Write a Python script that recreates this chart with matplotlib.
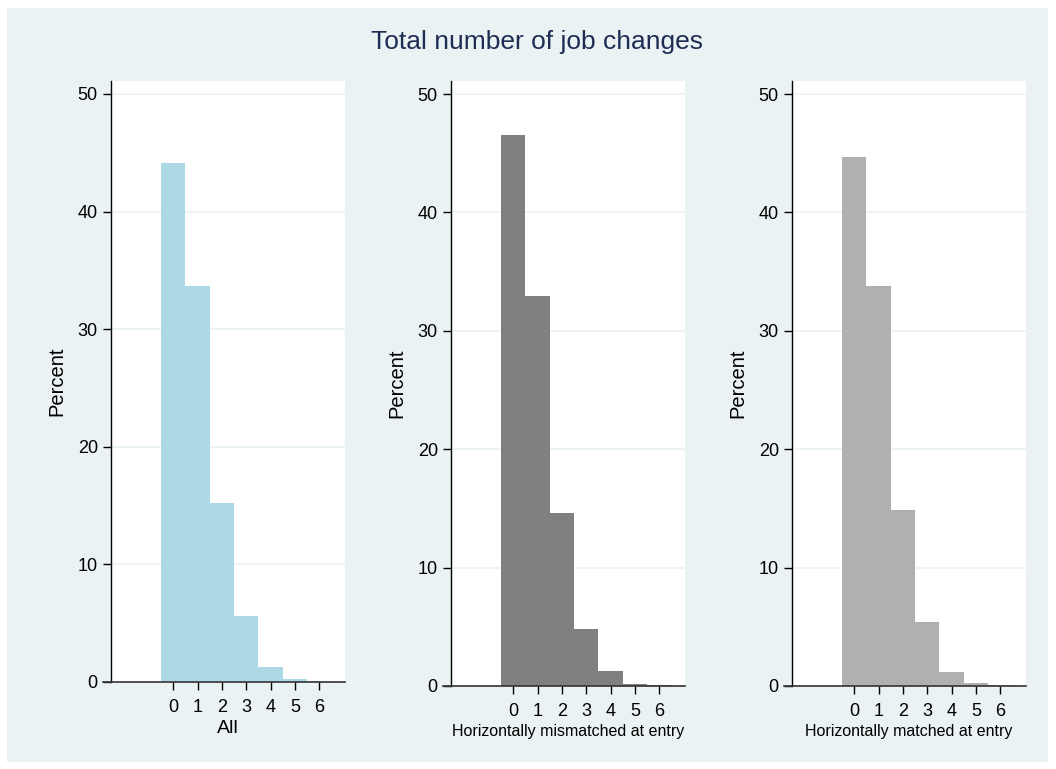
import matplotlib.pyplot as plt
from matplotlib.patches import Rectangle
from matplotlib.lines import Line2D
import numpy as np

plt.rcParams['font.family'] = ['Liberation Sans', 'DejaVu Sans']

job_changes = [0, 1, 2, 3, 4, 5, 6]
pct_all = [44.1, 33.7, 15.2, 5.6, 1.3, 0.25, 0.05]
pct_mismatched = [46.5, 32.9, 14.6, 4.8, 1.3, 0.17, 0.05]
pct_matched = [44.7, 33.8, 14.9, 5.4, 1.2, 0.25, 0.05]

panel_labels = ['All', 'Horizontally mismatched at entry', 'Horizontally matched at entry']
panel_values = [pct_all, pct_mismatched, pct_matched]
panel_colors = ['#ADD8E6', '#808080', '#B0B0B0']

BG = '#EAF2F3'
W, H = 1056, 769

fig = plt.figure(figsize=(W / 100, H / 100), dpi=100)
fig.patch.set_facecolor('white')
fig.patches.append(Rectangle((7 / W, 1 - 762 / H), 1041 / W, 754 / H,
                             transform=fig.transFigure, facecolor=BG,
                             edgecolor='none', zorder=-10))

fig.text(537 / W, 1 - 42 / H, 'Total number of job changes', ha='center',
         va='center', fontsize=19, color='#1F2D55')

# axes boxes in pixels: left, right, top, bottom
boxes = [(111, 345, 81, 682), (451, 685, 81, 686), (792, 1026, 81, 686)]

for i, (label, vals, color) in enumerate(zip(panel_labels, panel_values, panel_colors)):
    l, r, t, b = boxes[i]
    ax = fig.add_axes([l / W, 1 - b / H, (r - l) / W, (b - t) / H])
    ax.set_facecolor('white')
    ax.bar(job_changes, vals, width=1.0, color=color, edgecolor='none', zorder=2)
    ax.set_xlim(-2.55, 7.05)
    ax.set_ylim(0, 51.1)
    ax.set_yticks([0, 10, 20, 30, 40, 50])
    ax.set_xticks(job_changes)
    ax.yaxis.grid(True, color=BG, linewidth=1.2, zorder=0)
    ax.set_axisbelow(True)
    for s in ['top', 'right']:
        ax.spines[s].set_visible(False)
    ax.spines['left'].set_linewidth(1.0)
    ax.spines['bottom'].set_visible(False)
    # bottom axis line extends a bit left of the y axis
    ax.add_line(Line2D([-0.035, 1.0], [0, 0], transform=ax.transAxes,
                       color='#333333', linewidth=1.2, clip_on=False, zorder=5))
    ax.tick_params(axis='both', direction='out', length=6, width=1.0,
                   labelsize=13, colors='black')
    ax.tick_params(axis='x', pad=6)
    ax.set_ylabel('Percent', fontsize=14.5, labelpad=8)
    if i == 0:
        ax.set_xlabel(label, fontsize=14, labelpad=3)
    else:
        ax.set_xlabel(label, fontsize=11.5, labelpad=3)

fig.savefig('out.png', dpi=100, facecolor='white')
